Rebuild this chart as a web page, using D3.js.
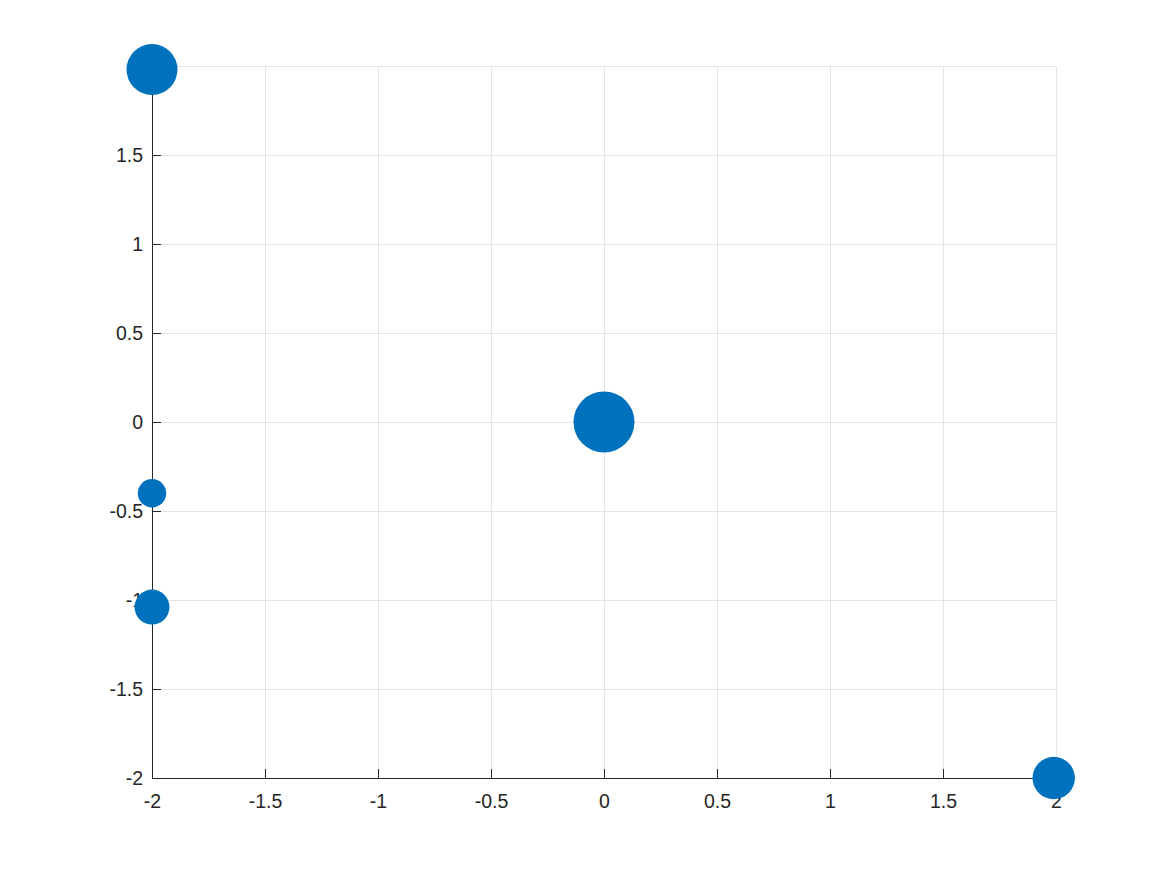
<!DOCTYPE html>
<html><head><meta charset="utf-8">
<script src="https://cdn.jsdelivr.net/npm/d3@7"></script>
<style>body{margin:0;background:#fff;} text{font-family:"Liberation Sans",Arial,sans-serif;}</style>
</head><body>
<svg id="c" width="1167" height="875"></svg>
<script>
const xValues = [-2, 0, -2, -2, 1.99];
const yValues = [1.98, 0, -0.4, -1.04, -2];
const sizeValues = [650, 930, 202, 306, 450];
const xTicks = [-2, -1.5, -1, -0.5, 0, 0.5, 1, 1.5, 2];
const yTicks = [-2, -1.5, -1, -0.5, 0, 0.5, 1, 1.5, 2];

const svg = d3.select("#c");
const L = 152, R = 1056, T = 66, B = 778;
const x = d3.scaleLinear().domain([-2, 2]).range([L, R]);
const y = d3.scaleLinear().domain([-2, 2]).range([B, T]);
const r = d3.scaleSqrt().domain([0, 930]).range([0, 30.5]);
const fmt = d => String(d);

// grid
const g = svg.append("g");
g.selectAll("line.gx").data(xTicks).join("line")
  .attr("x1", d => x(d)).attr("x2", d => x(d)).attr("y1", T).attr("y2", B)
  .attr("stroke", "#e3e3e3").attr("stroke-width", 1).attr("shape-rendering", "crispEdges");
g.selectAll("line.gy").data(yTicks).join("line")
  .attr("x1", L).attr("x2", R).attr("y1", d => y(d)).attr("y2", d => y(d))
  .attr("stroke", "#e3e3e3").attr("stroke-width", 1).attr("shape-rendering", "crispEdges");

// axes
const xa = svg.append("g").attr("transform", `translate(0,${B})`)
  .call(d3.axisBottom(x).tickValues(xTicks).tickFormat(fmt).tickSizeInner(-9).tickSizeOuter(0).tickPadding(16));
const ya = svg.append("g").attr("transform", `translate(${L},0)`)
  .call(d3.axisLeft(y).tickValues(yTicks).tickFormat(fmt).tickSizeInner(-9).tickSizeOuter(0).tickPadding(9));
[xa, ya].forEach(a => {
  a.select(".domain").attr("stroke", "#262626").attr("stroke-width", 1).attr("shape-rendering", "crispEdges");
  a.selectAll(".tick line").attr("stroke", "#262626").attr("shape-rendering", "crispEdges");
  a.selectAll("text").attr("fill", "#262626").attr("font-size", 19.5)
    .attr("font-family", "'Liberation Sans', Arial, sans-serif");
});

// points
svg.append("g").selectAll("circle").data(xValues.map((v, i) => ({x: v, y: yValues[i], s: sizeValues[i]})))
  .join("circle")
  .attr("cx", d => x(d.x)).attr("cy", d => y(d.y)).attr("r", d => r(d.s))
  .attr("fill", "#0072BD");
</script>
</body></html>
